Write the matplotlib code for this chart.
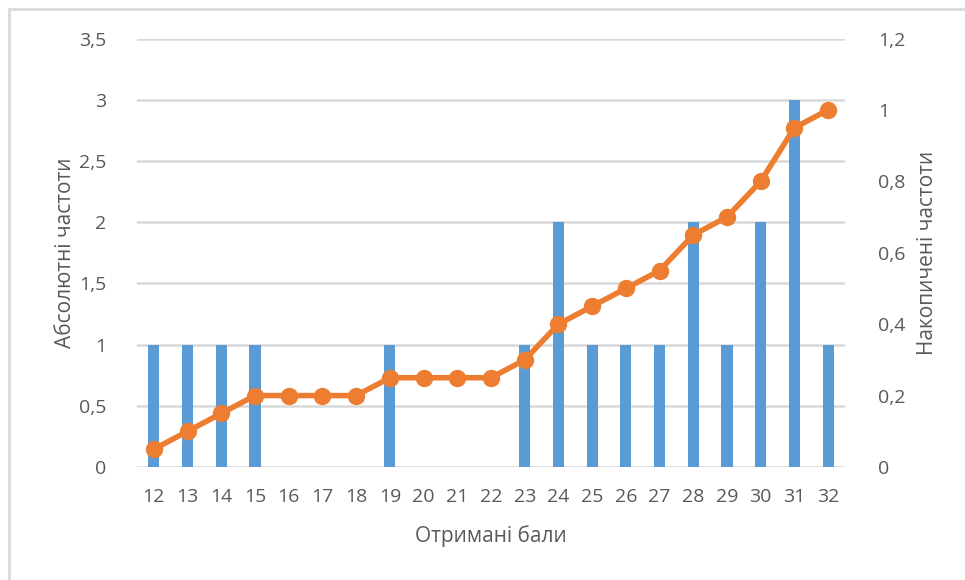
import matplotlib
matplotlib.use("Agg")
import matplotlib.pyplot as plt
from matplotlib.patches import Rectangle

scores = [12, 13, 14, 15, 16, 17, 18, 19, 20, 21, 22, 23, 24, 25, 26, 27, 28, 29, 30, 31, 32]
abs_freq = [1, 1, 1, 1, 0, 0, 0, 1, 0, 0, 0, 1, 2, 1, 1, 1, 2, 1, 2, 3, 1]
cum_freq = [0.05, 0.10, 0.15, 0.20, 0.20, 0.20, 0.20, 0.25, 0.25, 0.25, 0.25,
            0.30, 0.40, 0.45, 0.50, 0.55, 0.65, 0.70, 0.80, 0.95, 1.00]
left_ticks = [0, 0.5, 1, 1.5, 2, 2.5, 3, 3.5]
right_ticks = [0, 0.2, 0.4, 0.6, 0.8, 1, 1.2]

plt.rcParams['font.family'] = ['Open Sans', 'DejaVu Sans']
txt = '#595959'
grid = '#D9D9D9'

fig = plt.figure(figsize=(9.65, 5.8), dpi=100)
fig.patches.append(Rectangle((9/965, -0.01), 1.0, 1 - 9/580 + 0.01, transform=fig.transFigure,
                             fill=False, edgecolor='#D9D9D9', linewidth=2))
ax = fig.add_axes([137/965, 1 - 467/580, (845 - 137)/965, (467 - 38.5)/580])
x = list(range(len(scores)))
ax.bar(x, abs_freq, width=0.33, color='#5B9BD5', zorder=2)
ax.set_xlim(-0.5, len(scores) - 0.5)
ax.set_ylim(0, 3.5)
ax.set_yticks(left_ticks)
ax.set_yticklabels([f"{v:g}".replace('.', ',') for v in left_ticks])
ax.set_xticks(x)
ax.set_xticklabels([str(s) for s in scores])
ax.yaxis.grid(True, color=grid, linewidth=1.8, zorder=0)
ax.set_axisbelow(True)
for s in ax.spines.values():
    s.set_visible(False)
ax.tick_params(axis='both', length=0, labelsize=14, colors=txt)
ax.tick_params(axis='y', pad=22)
ax.tick_params(axis='x', pad=15)
ax.set_ylabel('Абсолютні частоти', fontsize=15, color=txt, labelpad=2)
ax.set_xlabel('Отримані бали', fontsize=15, color=txt, labelpad=14)

ax2 = ax.twinx()
ax2.plot(x, cum_freq, color='#ED7D31', linewidth=4, marker='o', markersize=11.5, zorder=3)
ax2.set_ylim(0, 1.2)
ax2.set_yticks(right_ticks)
ax2.set_yticklabels([f"{v:g}".replace('.', ',') for v in right_ticks])
for s in ax2.spines.values():
    s.set_visible(False)
ax2.tick_params(axis='y', length=0, labelsize=14, colors=txt, pad=24)
ax2.set_ylabel('Накопичені частоти', fontsize=15, color=txt, labelpad=8)

fig.savefig('out.png', dpi=100)
